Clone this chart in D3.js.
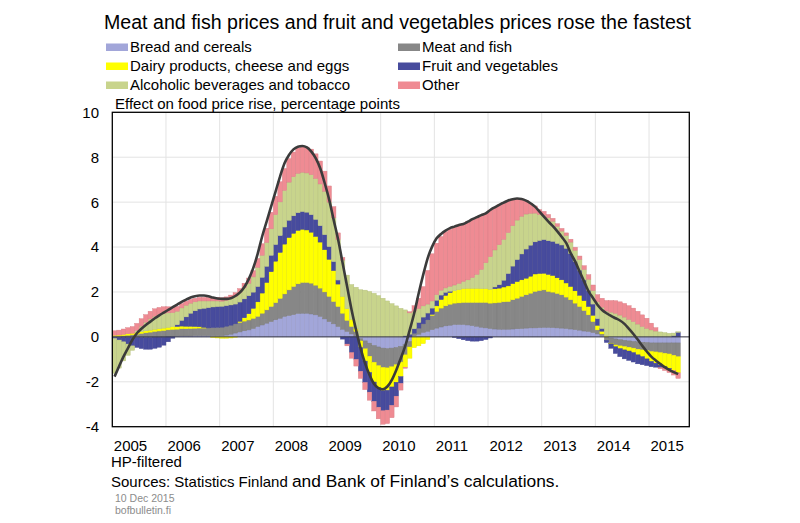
<!DOCTYPE html>
<html>
<head>
<meta charset="utf-8">
<script src="https://cdn.jsdelivr.net/npm/d3@7"></script>
<style>
    body { margin: 0; background: #fff; }
    svg { font-family: "Liberation Sans", Arial, sans-serif; }
</style>
</head>
<body>
<svg id="chart" width="800" height="523"></svg>
<script>
// monthly contributions, Jan 2005 .. Jul 2015 (one row per year)
var bread = [
    -0.02, -0.02, -0.02, -0.02, -0.02, -0.02, -0.02, -0.02, -0.02, -0.01, -0.01, -0.01,
    0.02, 0.03, 0.03, 0.04, 0.04, 0.04, 0.05, 0.05, 0.05, 0.05, 0.05, 0.05,
    0.05, 0.08, 0.12, 0.17, 0.22, 0.27, 0.31, 0.37, 0.46, 0.53, 0.61, 0.68,
    0.76, 0.83, 0.91, 0.95, 0.99, 1.04, 1.05, 1.05, 1.02, 0.98, 0.91, 0.80,
    0.68, 0.58, 0.46, 0.34, 0.24, 0.13, 0.03, -0.08, -0.18, -0.28, -0.38, -0.45,
    -0.5, -0.52, -0.5, -0.47, -0.42, -0.35, -0.2, 0.05, 0.12, 0.2, 0.25, 0.32,
    0.39, 0.44, 0.49, 0.52, 0.55, 0.55, 0.55, 0.53, 0.5, 0.47, 0.43, 0.4,
    0.37, 0.35, 0.34, 0.34, 0.34, 0.35, 0.36, 0.37, 0.39, 0.4, 0.4, 0.41,
    0.42, 0.42, 0.41, 0.4, 0.39, 0.37, 0.35, 0.32, 0.3, 0.26, 0.24, 0.19,
    0.13, 0.06, 0.0, -0.05, -0.09, -0.12, -0.15, -0.18, -0.2, -0.22, -0.24, -0.25,
    -0.27, -0.27, -0.27, -0.27, -0.27, -0.27, -0.27
];
var meat = [
    0.02, 0.03, 0.05, 0.07, 0.09, 0.12, 0.15, 0.18, 0.21, 0.24, 0.26, 0.28,
    0.29, 0.3, 0.31, 0.32, 0.32, 0.33, 0.33, 0.34, 0.34, 0.35, 0.36, 0.37,
    0.38, 0.39, 0.4, 0.41, 0.42, 0.43, 0.44, 0.45, 0.45, 0.52, 0.59, 0.67,
    0.76, 0.88, 1.0, 1.14, 1.25, 1.32, 1.37, 1.37, 1.37, 1.32, 1.26, 1.2,
    1.12, 0.99, 0.89, 0.71, 0.49, 0.33, 0.21, -0.1, -0.35, -0.58, -0.75, -0.83,
    -0.86, -0.86, -0.83, -0.77, -0.7, -0.45, -0.25, 0.11, 0.27, 0.38, 0.51, 0.63,
    0.74, 0.84, 0.89, 0.93, 0.95, 0.96, 0.98, 1.0, 1.03, 1.06, 1.1, 1.13,
    1.13, 1.16, 1.19, 1.22, 1.23, 1.3, 1.36, 1.43, 1.48, 1.54, 1.62, 1.65,
    1.67, 1.6, 1.58, 1.53, 1.48, 1.4, 1.3, 1.18, 1.05, 0.91, 0.74, 0.49,
    0.18, 0.07, -0.15, -0.23, -0.27, -0.28, -0.28, -0.28, -0.3, -0.33, -0.34, -0.36,
    -0.38, -0.4, -0.43, -0.46, -0.49, -0.55, -0.61
];
var dairy = [
    0.05, 0.05, 0.06, 0.07, 0.07, 0.08, 0.08, 0.09, 0.09, 0.1, 0.1, 0.11,
    0.11, 0.12, 0.12, 0.12, 0.11, 0.1, 0.08, 0.06, 0.03, 0.0, -0.03, -0.05,
    -0.06, -0.06, -0.05, -0.02, 0.05, 0.15, 0.28, 0.45, 0.65, 0.9, 1.22, 1.55,
    1.85, 2.05, 2.22, 2.33, 2.37, 2.38, 2.37, 2.34, 2.27, 2.17, 2.05, 1.88,
    1.65, 1.38, 1.0, 0.75, 0.52, 0.32, 0.12, -0.3, -0.55, -0.72, -0.88, -0.98,
    -1.03, -1.0, -0.9, -0.78, -0.65, -0.55, -0.5, -0.48, -0.4, -0.3, -0.12, 0.05,
    0.25, 0.38, 0.46, 0.52, 0.56, 0.59, 0.62, 0.63, 0.63, 0.63, 0.62, 0.62,
    0.62, 0.63, 0.64, 0.66, 0.7, 0.72, 0.74, 0.74, 0.74, 0.76, 0.78, 0.76,
    0.74, 0.76, 0.74, 0.7, 0.67, 0.63, 0.59, 0.55, 0.5, 0.44, 0.37, 0.28,
    0.2, 0.12, 0.05, -0.03, -0.08, -0.12, -0.15, -0.17, -0.2, -0.25, -0.3, -0.37,
    -0.44, -0.5, -0.55, -0.6, -0.64, -0.68, -0.72
];
var fruit = [
    -0.05, -0.12, -0.2, -0.3, -0.38, -0.45, -0.5, -0.53, -0.53, -0.5, -0.45, -0.36,
    -0.22, -0.06, 0.08, 0.25, 0.42, 0.58, 0.7, 0.79, 0.85, 0.9, 0.92, 0.93,
    0.93, 0.92, 0.9, 0.88, 0.86, 0.84, 0.8, 0.72, 0.68, 0.7, 0.72, 0.73,
    0.74, 0.75, 0.76, 0.77, 0.78, 0.79, 0.79, 0.79, 0.78, 0.76, 0.73, 0.67,
    0.57, 0.4, 0.18, -0.1, -0.32, -0.7, -1.0, -1.05, -0.95, -0.88, -0.86, -0.87,
    -0.9, -0.88, -0.82, -0.62, -0.3, 0.05, 0.12, 0.2, 0.25, 0.3, 0.3, 0.28,
    0.25, 0.2, 0.14, 0.06, -0.03, -0.08, -0.13, -0.17, -0.19, -0.19, -0.17, -0.12,
    -0.05, 0.08, 0.15, 0.3, 0.55, 0.78, 0.98, 1.15, 1.3, 1.38, 1.43, 1.47,
    1.5, 1.5, 1.52, 1.53, 1.55, 1.54, 1.46, 1.3, 1.12, 0.92, 0.72, 0.5,
    0.3, 0.12, -0.1, -0.2, -0.3, -0.36, -0.4, -0.42, -0.42, -0.4, -0.36, -0.3,
    -0.24, -0.18, -0.12, -0.07, -0.04, 0.05, 0.2
];
var alcohol = [
    -1.55, -1.25, -0.85, -0.5, -0.2, 0.08, 0.25, 0.38, 0.5, 0.58, 0.63, 0.65,
    0.65, 0.63, 0.6, 0.56, 0.52, 0.45, 0.4, 0.36, 0.33, 0.3, 0.27, 0.25,
    0.23, 0.24, 0.28, 0.34, 0.42, 0.5, 0.56, 0.68, 0.85, 0.98, 1.06, 1.18,
    1.33, 1.5, 1.63, 1.7, 1.74, 1.75, 1.75, 1.75, 1.78, 1.82, 1.86, 1.93,
    1.98, 1.95, 1.8, 1.62, 1.5, 1.55, 1.85, 2.1, 2.08, 2.02, 1.94, 1.84,
    1.72, 1.6, 1.48, 1.38, 1.27, 1.15, 0.95, 0.78, 0.62, 0.5, 0.4, 0.32,
    0.25, 0.22, 0.2, 0.22, 0.25, 0.28, 0.32, 0.38, 0.48, 0.62, 0.85, 1.15,
    1.45, 1.65, 1.78, 1.82, 1.82, 1.8, 1.76, 1.68, 1.56, 1.42, 1.28, 1.16,
    1.08, 1.02, 0.9, 0.76, 0.62, 0.57, 0.52, 0.5, 0.48, 0.47, 0.5, 0.6,
    0.75, 0.95, 1.1, 1.1, 1.05, 0.97, 0.88, 0.78, 0.68, 0.57, 0.46, 0.38,
    0.31, 0.26, 0.22, 0.19, 0.16, 0.12, 0.03
];
var other = [
    0.2, 0.22, 0.24, 0.27, 0.3, 0.32, 0.33, 0.34, 0.34, 0.33, 0.32, 0.3,
    0.27, 0.24, 0.22, 0.2, 0.18, 0.17, 0.16, 0.16, 0.16, 0.16, 0.16, 0.16,
    0.15, 0.15, 0.16, 0.17, 0.18, 0.2, 0.23, 0.28, 0.4, 0.52, 0.64, 0.74,
    0.82, 0.9, 0.98, 1.05, 1.1, 1.13, 1.15, 1.15, 1.14, 1.1, 1.02, 0.9,
    0.72, 0.5, 0.3, 0.12, -0.08, -0.25, -0.3, -0.32, -0.32, -0.36, -0.43, -0.52,
    -0.6, -0.6, -0.55, -0.48, -0.3, -0.05, 0.05, 0.25, 0.46, 0.86, 1.5, 2.1,
    2.29, 2.39, 2.5, 2.54, 2.57, 2.6, 2.59, 2.59, 2.6, 2.55, 2.42, 2.2,
    2.08, 1.9, 1.78, 1.64, 1.43, 1.18, 0.96, 0.77, 0.6, 0.45, 0.32, 0.22,
    0.18, 0.15, 0.13, 0.12, 0.12, 0.12, 0.13, 0.14, 0.15, 0.17, 0.2, 0.25,
    0.32, 0.4, 0.47, 0.52, 0.56, 0.59, 0.61, 0.61, 0.6, 0.57, 0.52, 0.45,
    0.3, 0.15, -0.05, -0.1, -0.15, -0.2, -0.25
];
// total food price rise, HP-filtered
var total = [
    -1.77, -1.32, -0.88, -0.5, -0.13, 0.16, 0.36, 0.53, 0.68, 0.83, 0.96, 1.08,
    1.2, 1.32, 1.44, 1.56, 1.66, 1.75, 1.81, 1.84, 1.84, 1.81, 1.75, 1.71,
    1.69, 1.69, 1.72, 1.82, 1.97, 2.21, 2.57, 3.06, 3.7, 4.47, 5.13, 5.8,
    6.47, 7.14, 7.73, 8.1, 8.35, 8.47, 8.5, 8.44, 8.25, 7.95, 7.5, 6.84,
    6.1, 5.2, 4.32, 3.28, 2.24, 1.2, 0.31, -0.5, -1.17, -1.69, -2.09, -2.28,
    -2.33, -2.21, -1.91, -1.47, -0.95, -0.4, 0.31, 1.05, 1.94, 2.76, 3.5, 4.02,
    4.39, 4.58, 4.73, 4.84, 4.91, 4.98, 5.03, 5.13, 5.24, 5.33, 5.42, 5.5,
    5.65, 5.77, 5.88, 5.98, 6.07, 6.13, 6.16, 6.14, 6.07, 5.95, 5.8, 5.58,
    5.35, 5.13, 4.93, 4.7, 4.45, 4.17, 3.72, 3.35, 2.9, 2.46, 2.02, 1.72,
    1.42, 1.2, 1.05, 0.93, 0.83, 0.73, 0.58, 0.36, 0.13, -0.13, -0.4, -0.65,
    -0.88, -1.05, -1.2, -1.35, -1.47, -1.57, -1.66
];

var seriesKeys = ["bread", "meat", "dairy", "fruit", "alcohol", "other"];
var seriesLabels = ["Bread and cereals", "Meat and fish", "Dairy products, cheese and eggs",
    "Fruit and vegetables", "Alcoholic beverages and tobacco", "Other"];
var yearLabels = ["2005", "2006", "2007", "2008", "2009", "2010", "2011", "2012", "2013", "2014", "2015"];
var yTicks = [-4, -2, 0, 2, 4, 6, 8, 10];

var colors = {
    bread: "#a2a6d9",
    meat: "#878787",
    dairy: "#ffff00",
    fruit: "#474b9d",
    alcohol: "#c8d48c",
    other: "#ef8b93"
};

var plot = { left: 112.3, right: 689.3, top: 112.3, bottom: 426.7 };
var monthsOnAxis = 129; // Jan 2005 .. Sep 2015

var svg = d3.select("#chart");
svg.append("rect").attr("width", 800).attr("height", 523).attr("fill", "#fff");

var rows = d3.range(bread.length).map(function (i) {
    return {
        i: i, bread: bread[i], meat: meat[i], dairy: dairy[i],
        fruit: fruit[i], alcohol: alcohol[i], other: other[i]
    };
});

var x = d3.scaleBand()
    .domain(d3.range(monthsOnAxis))
    .range([plot.left, plot.right])
    .padding(0);
var bw = x.bandwidth();

var y = d3.scaleLinear()
    .domain([yTicks[0], yTicks[yTicks.length - 1]])
    .range([plot.bottom, plot.top]);

// grid
var grid = svg.append("g").attr("stroke", "#e3e3e3").attr("stroke-width", 1);
grid.selectAll("line.h")
    .data(yTicks.slice(1, -1))
    .enter().append("line")
    .attr("x1", plot.left).attr("x2", plot.right)
    .attr("y1", function (d) { return y(d); })
    .attr("y2", function (d) { return y(d); });
grid.selectAll("line.v")
    .data(yearLabels.slice(1))
    .enter().append("line")
    .attr("x1", function (d, k) { return x((k + 1) * 12); })
    .attr("x2", function (d, k) { return x((k + 1) * 12); })
    .attr("y1", plot.top).attr("y2", plot.bottom);

// stacked bars
var stacked = d3.stack()
    .keys(seriesKeys)
    .offset(d3.stackOffsetDiverging)(rows);

svg.append("g").selectAll("g")
    .data(stacked)
    .enter().append("g")
    .attr("fill", function (s) { return colors[s.key]; })
    .attr("stroke", function (s) { return d3.color(colors[s.key]).darker(0.3); })
    .attr("stroke-width", 0.4)
    .selectAll("rect")
    .data(function (s) { return s; })
    .enter().append("rect")
    .attr("x", function (d) { return x(d.data.i); })
    .attr("width", bw)
    .attr("y", function (d) { return y(Math.max(d[0], d[1])); })
    .attr("height", function (d) { return Math.abs(y(d[0]) - y(d[1])); });

// zero line
svg.append("line")
    .attr("x1", plot.left).attr("x2", plot.right)
    .attr("y1", y(0)).attr("y2", y(0))
    .attr("stroke", "#3a3a4a").attr("stroke-width", 1);

// total line
var line = d3.line()
    .x(function (d, i) { return x(i) + bw / 2; })
    .y(function (d) { return y(d); })
    .curve(d3.curveMonotoneX);

svg.append("path")
    .datum(total)
    .attr("d", line)
    .attr("fill", "none")
    .attr("stroke", "#3b3b3b")
    .attr("stroke-width", 2.6)
    .attr("stroke-linejoin", "round");

// frame
svg.append("rect")
    .attr("x", plot.left).attr("y", plot.top)
    .attr("width", plot.right - plot.left).attr("height", plot.bottom - plot.top)
    .attr("fill", "none").attr("stroke", "#000").attr("stroke-width", 1.3);

// y tick labels
svg.append("g").selectAll("text")
    .data(yTicks)
    .enter().append("text")
    .attr("x", 99)
    .attr("y", function (d) { return y(d); })
    .attr("dy", "0.36em")
    .attr("text-anchor", "end")
    .attr("font-size", 15)
    .attr("fill", "#000")
    .text(function (d) { return d; });

// x labels (year start)
svg.append("g").selectAll("text")
    .data(yearLabels)
    .enter().append("text")
    .attr("x", function (d, k) { return x(k * 12) + 1.5; })
    .attr("y", 451)
    .attr("font-size", 15)
    .attr("fill", "#000")
    .text(function (d) { return d; });

// title
svg.append("text")
    .attr("x", 104).attr("y", 29)
    .attr("font-size", 19.6)
    .attr("fill", "#000")
    .text("Meat and fish prices and fruit and vegetables prices rose the fastest");

// legend
var legend = svg.append("g").selectAll("g")
    .data(seriesKeys)
    .enter().append("g")
    .attr("transform", function (d, k) {
        return "translate(" + (k % 2 === 0 ? 106 : 398) + "," + (52 + Math.floor(k / 2) * 19) + ")";
    });
legend.append("rect")
    .attr("x", 0).attr("y", -8.5)
    .attr("width", 22).attr("height", 7.5)
    .attr("fill", function (d) { return colors[d]; });
legend.append("text")
    .attr("x", 24).attr("y", 0)
    .attr("font-size", 15)
    .attr("fill", "#000")
    .text(function (d, k) { return seriesLabels[k]; });

svg.append("text")
    .attr("x", 115).attr("y", 109)
    .attr("font-size", 15)
    .text("Effect on food price rise, percentage points");

// footer
svg.append("text")
    .attr("x", 111).attr("y", 467)
    .attr("font-size", 15)
    .text("HP-filtered");

var src = svg.append("text").attr("x", 111).attr("y", 487);
src.append("tspan").attr("font-size", 15).text("Sources: Statistics Finland ");
src.append("tspan").attr("font-size", 17.4).text("and Bank of Finland\u2019s calculations.");

svg.append("text")
    .attr("x", 115).attr("y", 502)
    .attr("font-size", 10.5).attr("fill", "#8c8c8c")
    .text("10 Dec 2015");
svg.append("text")
    .attr("x", 115).attr("y", 514)
    .attr("font-size", 10.5).attr("fill", "#8c8c8c")
    .text("bofbulletin.fi");
</script>
</body>
</html>
